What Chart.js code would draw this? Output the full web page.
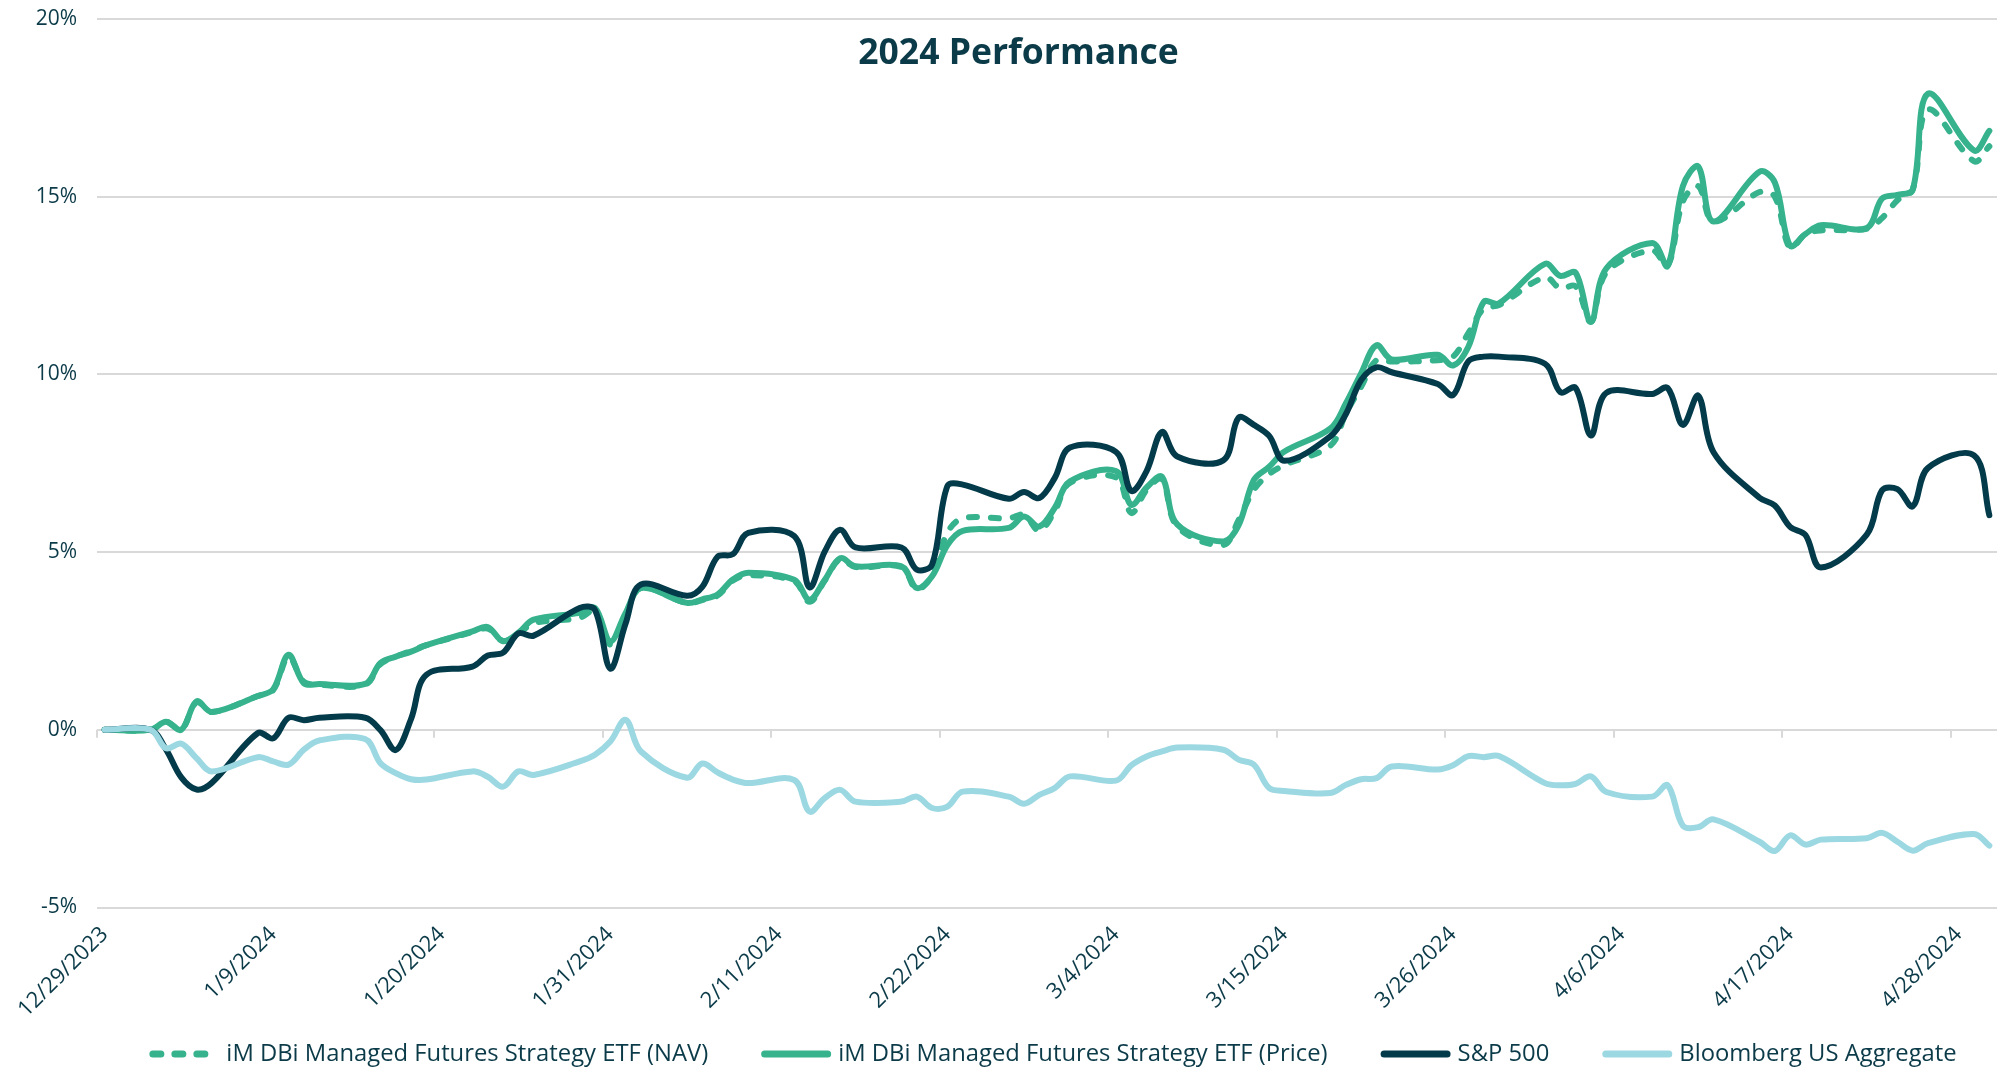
<!DOCTYPE html>
<html>
<head>
<meta charset="utf-8">
<script src="https://cdn.jsdelivr.net/npm/chart.js@4.4.1/dist/chart.umd.min.js"></script>
<style>
  html, body { margin: 0; padding: 0; background: #ffffff; }
  #c { display: block; }
</style>
</head>
<body>
<canvas id="c" width="2001" height="1070"></canvas>
<script>
// ---------------- DATA ----------------
const chartTitle = '2024 Performance';

const dates = [
  '12/29/2023','12/30/2023','12/31/2023',
  '1/1/2024','1/2/2024','1/3/2024','1/4/2024','1/5/2024','1/6/2024','1/7/2024','1/8/2024','1/9/2024','1/10/2024',
  '1/11/2024','1/12/2024','1/13/2024','1/14/2024','1/15/2024','1/16/2024','1/17/2024','1/18/2024','1/19/2024','1/20/2024',
  '1/21/2024','1/22/2024','1/23/2024','1/24/2024','1/25/2024','1/26/2024','1/27/2024','1/28/2024','1/29/2024','1/30/2024','1/31/2024',
  '2/1/2024','2/2/2024','2/3/2024','2/4/2024','2/5/2024','2/6/2024','2/7/2024','2/8/2024','2/9/2024','2/10/2024',
  '2/11/2024','2/12/2024','2/13/2024','2/14/2024','2/15/2024','2/16/2024','2/17/2024','2/18/2024','2/19/2024','2/20/2024',
  '2/21/2024','2/22/2024','2/23/2024','2/24/2024','2/25/2024','2/26/2024','2/27/2024','2/28/2024','2/29/2024',
  '3/1/2024','3/2/2024','3/3/2024','3/4/2024','3/5/2024','3/6/2024','3/7/2024','3/8/2024','3/9/2024','3/10/2024',
  '3/11/2024','3/12/2024','3/13/2024','3/14/2024','3/15/2024','3/16/2024','3/17/2024','3/18/2024','3/19/2024','3/20/2024',
  '3/21/2024','3/22/2024','3/23/2024','3/24/2024','3/25/2024','3/26/2024','3/27/2024','3/28/2024','3/29/2024','3/30/2024','3/31/2024',
  '4/1/2024','4/2/2024','4/3/2024','4/4/2024','4/5/2024','4/6/2024','4/7/2024','4/8/2024','4/9/2024','4/10/2024',
  '4/11/2024','4/12/2024','4/13/2024','4/14/2024','4/15/2024','4/16/2024','4/17/2024','4/18/2024','4/19/2024','4/20/2024',
  '4/21/2024','4/22/2024','4/23/2024','4/24/2024','4/25/2024','4/26/2024','4/27/2024','4/28/2024','4/29/2024','4/30/2024'
];

// every 11th date carries a label
const labelEvery = 11;

const seriesNames = [
  'iM DBi Managed Futures Strategy ETF (NAV)',
  'iM DBi Managed Futures Strategy ETF (Price)',
  'S&P 500',
  'Bloomberg US Aggregate'
];

// cumulative return (%), weekdays only (weekends = null)
const navReturn = [
  0, null, null,
  0, 0.23, 0.00, 0.78, 0.50, null, null,
  0.95, 1.12, 2.05, 1.35, 1.27, null, null,
  1.27, 1.85, 2.06, 2.22, 2.38, null, null,
  2.75, 2.85, 2.50, 2.70, 3.00, null, null,
  3.15, 3.35, 2.40, 3.25, 3.99, null, null,
  3.57, 3.65, 3.78, 4.20, 4.35, null, null,
  4.18, 3.60, 4.20, 4.80, 4.58, null, null,
  4.58, 3.95, 4.35, 5.55, 5.95, null, null,
  5.95, 6.05, 5.60, 6.15, 6.95, null, null,
  7.10, 6.10, 6.75, 7.05, 5.72, null, null,
  5.20, 5.90, 6.75, 7.20, 7.45, null, null,
  8.00, 8.90, 9.65, 10.40, 10.36, null, null,
  10.40, 10.50, 11.16, 11.85, 11.95, null, null,
  12.73, 12.42, 12.48, 11.48, 12.86, null, null,
  13.49, 13.05, 14.87, 15.30, 14.30, null, null,
  15.13, 15.00, 13.55, 13.95, 14.05, null, null,
  14.10, 14.40, 14.90, 15.20, 17.45, null, null,
  16.00, 16.42
];

const priceReturn = [
  0, null, null,
  0, 0.23, 0.00, 0.80, 0.50, null, null,
  0.95, 1.14, 2.11, 1.31, 1.29, null, null,
  1.29, 1.88, 2.06, 2.20, 2.38, null, null,
  2.77, 2.89, 2.49, 2.73, 3.10, null, null,
  3.29, 3.43, 2.49, 3.29, 3.99, null, null,
  3.57, 3.67, 3.81, 4.23, 4.42, null, null,
  4.22, 3.66, 4.22, 4.83, 4.60, null, null,
  4.60, 3.99, 4.32, 5.20, 5.60, null, null,
  5.68, 6.00, 5.72, 6.24, 6.99, null, null,
  7.28, 6.33, 6.82, 7.12, 5.78, null, null,
  5.30, 5.75, 7.03, 7.40, 7.83, null, null,
  8.48, 9.18, 10.03, 10.82, 10.42, null, null,
  10.55, 10.25, 10.78, 12.04, 12.00, null, null,
  13.11, 12.77, 12.86, 11.48, 12.98, null, null,
  13.70, 13.05, 15.30, 15.85, 14.30, null, null,
  15.70, 15.40, 13.62, 13.95, 14.20, null, null,
  14.12, 14.95, 15.05, 15.20, 17.90, null, null,
  16.30, 16.85
];

const spxReturn = [
  0, null, null,
  0, -0.55, -1.34, -1.68, -1.49, null, null,
  -0.09, -0.24, 0.34, 0.27, 0.34, null, null,
  0.34, -0.01, -0.57, 0.31, 1.55, null, null,
  1.78, 2.09, 2.17, 2.71, 2.65, null, null,
  3.43, 3.37, 1.72, 2.99, 4.09, null, null,
  3.77, 4.02, 4.87, 4.94, 5.54, null, null,
  5.45, 4.01, 5.02, 5.63, 5.13, null, null,
  5.13, 4.51, 4.65, 6.86, 6.90, null, null,
  6.50, 6.69, 6.52, 7.08, 7.94, null, null,
  7.82, 6.72, 7.28, 8.38, 7.69, null, null,
  7.58, 8.78, 8.58, 8.27, 7.57, null, null,
  8.26, 8.88, 9.84, 10.20, 10.06, null, null,
  9.73, 9.42, 10.37, 10.50, 10.50, null, null,
  10.30, 9.50, 9.62, 8.28, 9.48, null, null,
  9.45, 9.62, 8.58, 9.40, 7.81, null, null,
  6.53, 6.31, 5.71, 5.48, 4.57, null, null,
  5.49, 6.74, 6.77, 6.29, 7.37, null, null,
  7.72, 6.04
];

const aggReturn = [
  0, null, null,
  0, -0.52, -0.39, -0.80, -1.17, null, null,
  -0.77, -0.89, -0.98, -0.56, -0.30, null, null,
  -0.26, -0.94, -1.22, -1.39, -1.40, null, null,
  -1.17, -1.32, -1.60, -1.17, -1.27, null, null,
  -0.89, -0.70, -0.33, 0.28, -0.61, null, null,
  -1.35, -0.95, -1.20, -1.40, -1.50, null, null,
  -1.41, -2.30, -1.92, -1.69, -2.02, null, null,
  -2.02, -1.88, -2.20, -2.16, -1.74, null, null,
  -1.88, -2.08, -1.83, -1.64, -1.31, null, null,
  -1.43, -1.00, -0.75, -0.61, -0.50, null, null,
  -0.56, -0.84, -0.98, -1.64, -1.72, null, null,
  -1.78, -1.55, -1.39, -1.36, -1.03, null, null,
  -1.12, -1.00, -0.74, -0.77, -0.74, null, null,
  -1.50, -1.56, -1.52, -1.31, -1.75, null, null,
  -1.88, -1.56, -2.70, -2.74, -2.52, null, null,
  -3.15, -3.41, -2.97, -3.23, -3.09, null, null,
  -3.05, -2.90, -3.15, -3.40, -3.19, null, null,
  -2.93, -3.26
];

const yMin = -5, yMax = 20, yStep = 5;

// ---------------- STYLE ----------------
const FONT = "'Open Sans', 'Noto Sans', sans-serif";
const TEXT = '#0B3A48';
const GREEN = '#36B28C';
const NAVY = '#033B4A';
const LIGHT = '#9BD8E2';
const GRID = '#D9D9D9';

Chart.defaults.font.family = FONT;
Chart.defaults.color = TEXT;

const innerTitle = {
  id: 'innerTitle',
  afterDraw(chart) {
    const a = chart.chartArea;
    const ctx = chart.ctx;
    ctx.save();
    ctx.font = "bold 35.5px " + FONT;
    ctx.fillStyle = TEXT;
    ctx.textAlign = 'center';
    ctx.textBaseline = 'middle';
    ctx.fillText(chartTitle, a.left + a.width * 0.485, a.top + 34.5);
    ctx.restore();
  }
};

const zeroTicks = {
  id: 'zeroTicks',
  beforeDatasetsDraw(chart) {
    const xs = chart.scales.x, ys = chart.scales.y, ctx = chart.ctx;
    const y0 = ys.getPixelForValue(0);
    const half = (xs.getPixelForValue(1) - xs.getPixelForValue(0)) / 2;
    ctx.save();
    ctx.strokeStyle = GRID;
    ctx.lineWidth = 2;
    for (let i = 0; i < dates.length; i += labelEvery) {
      const px = Math.round(xs.getPixelForValue(i) - half);
      ctx.beginPath();
      ctx.moveTo(px, y0);
      ctx.lineTo(px, y0 + 8);
      ctx.stroke();
    }
    ctx.restore();
  }
};

// legend drawn under the axis labels
const bottomLegend = {
  id: 'bottomLegend',
  afterDraw(chart) {
    const ctx = chart.ctx, a = chart.chartArea;
    const fontSize = 23.8, sampleW = 70, textGap = 7, itemGap = 53, lw = 7;
    ctx.save();
    ctx.font = fontSize + 'px ' + FONT;
    const items = chart.data.datasets.map(ds => ({ ds, w: ctx.measureText(ds.label).width }));
    const total = items.reduce((s, it) => s + sampleW + textGap + it.w, 0) + itemGap * (items.length - 1);
    let x = (a.left + a.right) / 2 + 6 - total / 2;
    const y = chart.height - 16;
    items.forEach(it => {
      ctx.beginPath();
      ctx.strokeStyle = it.ds.borderColor;
      ctx.lineWidth = lw;
      ctx.lineCap = 'round';
      ctx.setLineDash(it.ds.borderDash || []);
      ctx.moveTo(x + lw / 2, y);
      ctx.lineTo(x + sampleW - lw / 2, y);
      ctx.stroke();
      ctx.setLineDash([]);
      ctx.fillStyle = TEXT;
      ctx.textBaseline = 'middle';
      ctx.textAlign = 'left';
      ctx.fillText(it.ds.label, x + sampleW + textGap, y);
      x += sampleW + textGap + it.w + itemGap;
    });
    ctx.restore();
  }
};

const common = { pointRadius: 0, pointHoverRadius: 0, tension: 0.35, spanGaps: true, fill: false };

new Chart(document.getElementById('c'), {
  type: 'line',
  data: {
    labels: dates,
    datasets: [
      Object.assign({ label: seriesNames[0], data: navReturn, borderColor: GREEN, backgroundColor: GREEN,
        borderWidth: 6, borderDash: [8, 14], borderCapStyle: 'round', order: 4 }, common),
      Object.assign({ label: seriesNames[1], data: priceReturn, borderColor: GREEN, backgroundColor: GREEN,
        borderWidth: 6, borderCapStyle: 'round', order: 3 }, common),
      Object.assign({ label: seriesNames[2], data: spxReturn, borderColor: NAVY, backgroundColor: NAVY,
        borderWidth: 6, borderCapStyle: 'round', order: 2 }, common),
      Object.assign({ label: seriesNames[3], data: aggReturn, borderColor: LIGHT, backgroundColor: LIGHT,
        borderWidth: 6, borderCapStyle: 'round', order: 1 }, common)
    ]
  },
  options: {
    responsive: false,
    animation: false,
    events: [],
    layout: { padding: { top: 19, right: 4, left: 0, bottom: 37.5 } },
    scales: {
      x: {
        offset: true,
        grid: { display: false },
        border: { display: false },
        ticks: {
          autoSkip: false,
          maxRotation: 45,
          minRotation: 45,
          padding: 6,
          color: TEXT,
          font: { size: 22 },
          callback: function (value, index) {
            return index % labelEvery === 0 ? this.getLabelForValue(value) : null;
          }
        },
        afterFit: (s) => { s.height = 125; }
      },
      y: {
        min: yMin,
        max: yMax,
        grid: { color: GRID, lineWidth: 2, drawTicks: true, tickLength: 18, tickColor: 'rgba(0,0,0,0)' },
        border: { display: false },
        ticks: {
          stepSize: yStep,
          padding: 2,
          color: TEXT,
          font: { size: 21 },
          callback: (v) => v + '%'
        },
        afterFit: (s) => { s.width = 97; }
      }
    },
    plugins: {
      title: { display: false },
      tooltip: { enabled: false },
      legend: { display: false }
    }
  },
  plugins: [zeroTicks, innerTitle, bottomLegend]
});
</script>
</body>
</html>
